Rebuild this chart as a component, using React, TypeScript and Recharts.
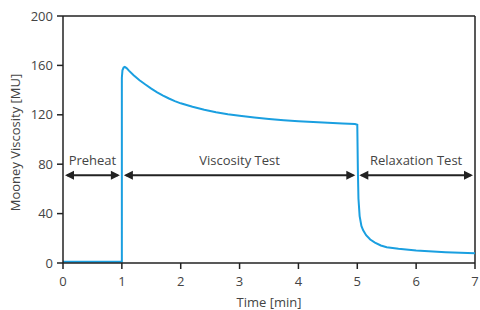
import React from 'react';
import { LineChart, Line, XAxis, YAxis, ReferenceLine } from 'recharts';

// time [min] and Mooney viscosity [MU]
const timeMin = [
    0, 0.5, 1, 1, 1.01, 1.03, 1.05, 1.08, 1.12, 1.2, 1.3, 1.4, 1.5, 1.6, 1.7, 1.8, 1.9, 2,
    2.2, 2.4, 2.6, 2.8, 3, 3.25, 3.5, 3.75, 4, 4.25, 4.5, 4.75, 4.96, 5, 5.01, 5.02, 5.04, 5.07,
    5.1, 5.15, 5.22, 5.3, 5.4, 5.5, 5.7, 6, 6.5, 7,
];
const viscosityMU = [
    1, 1, 1, 150, 156, 158.3, 158.8, 157.8, 155.8, 152, 148, 144.5, 141.2, 138.2, 135.6, 133.2,
    131.1, 129.3, 126.5, 124.1, 122.1, 120.5, 119.2, 117.8, 116.6, 115.6, 114.8, 114.1, 113.5,
    113, 112.6, 112, 75, 52, 38, 30, 26.5, 22.5, 19, 16.5, 14.2, 12.8, 11.5, 10.2, 8.8, 7.8,
];

const xTicks = [0, 1, 2, 3, 4, 5, 6, 7];
const yTicks = [0, 40, 80, 120, 160, 200];

// test phases: label, start, end (min)
const phaseLabels = ['Preheat', 'Viscosity Test', 'Relaxation Test'];
const phaseStart = [0, 1, 5];
const phaseEnd = [1, 5, 7];
const phaseArrowLevel = 71;

const data = timeMin.map((t, i) => ({ t, v: viscosityMU[i] }));

const INK = '#222222';
const TEXT = '#444444';
const FONT = '"Open Sans", Lato, sans-serif';

const makeArrow = (label: string) => (props: any) => {
    const { x1, y1, x2 } = props;
    const gap = 2;
    const head = 9;
    const half = 4.5;
    const a = x1 + gap;
    const b = x2 - gap;
    return (
        <g>
            <line x1={a + 2} y1={y1} x2={b - 2} y2={y1} stroke={INK} strokeWidth={2} />
            <polygon points={`${a},${y1} ${a + head},${y1 - half} ${a + head},${y1 + half}`} fill={INK} />
            <polygon points={`${b},${y1} ${b - head},${y1 - half} ${b - head},${y1 + half}`} fill={INK} />
            <text
                x={(x1 + x2) / 2}
                y={y1 - 10}
                textAnchor="middle"
                fill={TEXT}
                fontSize={13}
                fontFamily={FONT}
            >
                {label}
            </text>
        </g>
    );
};

export default function App() {
    return (
        <div style={{ position: 'absolute', left: 0, top: 0, width: 480, height: 310, background: '#fff' }}>
            <LineChart
                width={480}
                height={310}
                data={data}
                margin={{ top: 16, right: 5, bottom: 0, left: 0 }}
            >
                <XAxis
                    dataKey="t"
                    type="number"
                    domain={[0, 7]}
                    ticks={xTicks}
                    height={47}
                    tickSize={6}
                    tickMargin={8}
                    stroke={INK}
                    strokeWidth={1.5}
                    tick={{ fill: TEXT, fontSize: 13, fontFamily: FONT }}
                    label={{
                        value: 'Time [min]',
                        position: 'insideBottom',
                        offset: 3,
                        fill: TEXT,
                        fontSize: 13,
                        fontFamily: FONT,
                    }}
                />
                <YAxis
                    type="number"
                    domain={[0, 200]}
                    ticks={yTicks}
                    width={63}
                    tickSize={6}
                    tickMargin={4}
                    stroke={INK}
                    strokeWidth={1.5}
                    tick={{ fill: TEXT, fontSize: 13, fontFamily: FONT }}
                    label={{
                        value: 'Mooney Viscosity [MU]',
                        angle: -90,
                        position: 'insideLeft',
                        offset: 15,
                        dy: 3,
                        fill: TEXT,
                        fontSize: 13,
                        fontFamily: FONT,
                        style: { textAnchor: 'middle' },
                    }}
                />
                <ReferenceLine y={200} stroke={INK} strokeWidth={1.5} />
                <ReferenceLine x={7} stroke={INK} strokeWidth={1.5} />
                {phaseLabels.map((label, i) => (
                    <ReferenceLine
                        key={label}
                        segment={[
                            { x: phaseStart[i], y: phaseArrowLevel },
                            { x: phaseEnd[i], y: phaseArrowLevel },
                        ]}
                        shape={makeArrow(label)}
                    />
                ))}
                <Line
                    type="linear"
                    dataKey="v"
                    stroke="#1a9fe0"
                    strokeWidth={2}
                    dot={false}
                    isAnimationActive={false}
                />
            </LineChart>
        </div>
    );
}
